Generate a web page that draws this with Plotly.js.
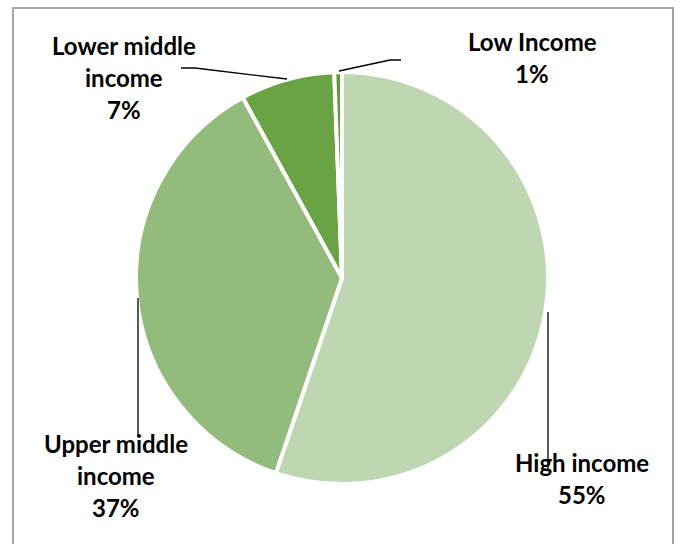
<!DOCTYPE html>
<html><head><meta charset="utf-8">
<script src="https://cdn.plot.ly/plotly-3.0.1.min.js"></script>
<style>html,body{margin:0;padding:0;background:#fff;}#chart{width:681px;height:544px;}</style>
</head><body><div id="chart"></div>
<script>
const categories = ["High income", "Upper middle income", "Lower middle income", "Low Income"];
const values = [55.2, 36.8, 7.4, 0.6];
const labelLines = [["High income"], ["Upper middle", "income"], ["Lower middle", "income"], ["Low Income"]];
const colors = ["#BED6B1", "#93BB7B", "#6AA344", "#5F9B3B"];

const W = 681, H = 544;
const px = x => x / W, py = y => 1 - y / H;
const cx = 342, cy = 278, R = 206;

const total = values.reduce((a, b) => a + b, 0);
const pct = values.map(v => Math.round(v / total * 100) + "%");

// label anchor positions (pixels, centre of text block top line) and leader lines
const labelPos = [[582, 462], [116, 443], [124, 45], [532, 42]];
const leaders = [
  [[548, 312], [548, 470]],
  [[138, 298], [138, 437]],
  [[181, 68], [195, 68], [287, 79]],
  [[339, 71], [390, 60], [401, 60]]
];
const lineH = 32;

const annotations = [];
categories.forEach((c, i) => {
  const lines = labelLines[i].concat([pct[i]]);
  lines.forEach((t, j) => {
    annotations.push({
      xref: 'paper', yref: 'paper',
      x: px(labelPos[i][0]), y: py(labelPos[i][1] + j * lineH),
      text: '<b>' + t + '</b>', showarrow: false,
      xanchor: 'center', yanchor: 'middle',
      font: {family: 'Lato, "Open Sans", sans-serif', size: 24, color: '#000'}
    });
  });
});

const shapes = [{
  type: 'rect', xref: 'paper', yref: 'paper',
  x0: px(13), x1: px(673), y0: py(8), y1: py(560),
  line: {color: '#A6A6A6', width: 2}, fillcolor: 'rgba(0,0,0,0)', layer: 'below'
}];
leaders.forEach(pts => {
  const d = pts.map((p, k) => (k ? 'L' : 'M') + px(p[0]) + ',' + py(p[1])).join(' ');
  shapes.push({type: 'path', xref: 'paper', yref: 'paper', path: d, line: {color: '#000', width: 1.3}});
});

const trace = {
  type: 'pie',
  labels: categories,
  values: values,
  sort: false,
  direction: 'clockwise',
  rotation: 0,
  textinfo: 'none',
  hoverinfo: 'label+percent',
  marker: {colors: colors, line: {color: '#FFFFFF', width: 4}},
  domain: {x: [px(cx - R), px(cx + R)], y: [py(cy + R), py(cy - R)]},
  showlegend: false
};

const layout = {
  width: W, height: H,
  margin: {l: 0, r: 0, t: 0, b: 0},
  paper_bgcolor: '#FFFFFF',
  showlegend: false,
  annotations: annotations,
  shapes: shapes
};

Plotly.newPlot('chart', [trace], layout, {displayModeBar: false, staticPlot: true});
</script>
</body></html>
